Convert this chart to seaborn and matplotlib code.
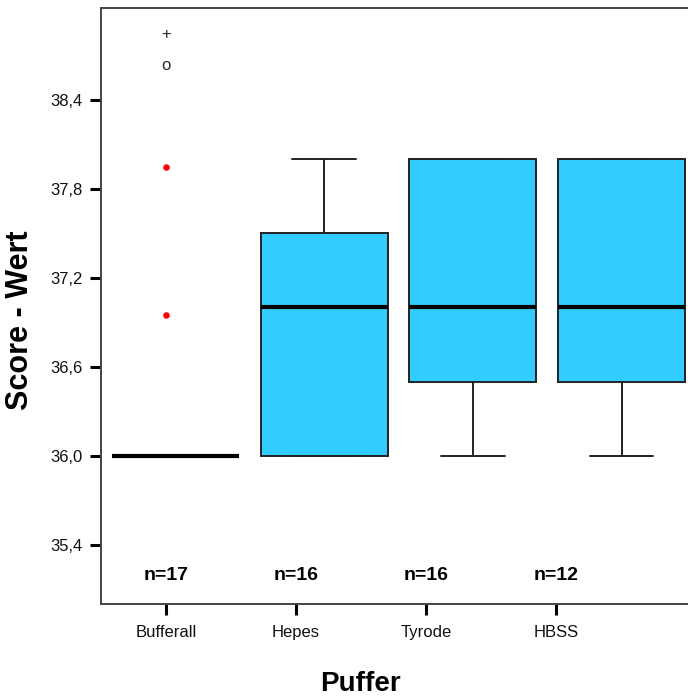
import numpy as np
import pandas as pd
import matplotlib.pyplot as plt
from matplotlib.ticker import FuncFormatter
import seaborn as sns

groups = ['Bufferall', 'Hepes', 'Tyrode', 'HBSS']
counts = ['n=17', 'n=16', 'n=16', 'n=12']

# raw scores per group (chosen so the quartiles match the picture)
bufferall = [36.0] * 15 + [36.95, 37.95]
hepes = [36.0] * 5 + [36.5] + [37.0] * 5 + [37.5] * 2 + [38.0] * 3
tyrode = [36.0] * 2 + [36.5] * 4 + [37.0] * 4 + [37.5] + [38.0] * 5
hbss = [36.0] * 2 + [36.5] * 2 + [37.0] * 3 + [37.5] + [38.0] * 4

red_outliers = [36.95, 37.95]
circle_mark = 38.63
plus_mark = 38.84

y_ticks = [35.4, 36.0, 36.6, 37.2, 37.8, 38.4]

df = pd.DataFrame({
    'Puffer': (['Bufferall'] * len(bufferall) + ['Hepes'] * len(hepes)
               + ['Tyrode'] * len(tyrode) + ['HBSS'] * len(hbss)),
    'Score': bufferall + hepes + tyrode + hbss,
})

sns.set_style('ticks')
plt.rcParams['font.family'] = ['Liberation Sans', 'DejaVu Sans']

fig = plt.figure(figsize=(6.88, 7.0), dpi=100)
ax = fig.add_axes([101 / 688, 96 / 700, 589 / 688, 596 / 700])

sns.boxplot(data=df, x='Puffer', y='Score', order=groups, ax=ax,
            color='#33CCFF', saturation=1, width=0.854, whis=1.5,
            showfliers=False,
            boxprops=dict(edgecolor='#222222', linewidth=1.4),
            whiskerprops=dict(color='#222222', linewidth=1.4),
            capprops=dict(color='#222222', linewidth=1.4),
            medianprops=dict(color='black', linewidth=3))

# tick / label positions sit a bit left of the box centres, like the original
tick_pos = [-0.063 + 0.874 * i for i in range(len(groups))]

ax.scatter([tick_pos[0]] * len(red_outliers), red_outliers, s=22,
           color='red', zorder=5, linewidths=0)
ax.text(tick_pos[0], circle_mark, 'o', ha='center', va='center', fontsize=12)
ax.text(tick_pos[0], plus_mark, '+', ha='center', va='center', fontsize=12)

for x, lab in zip(tick_pos, counts):
    ax.text(x, 35.19, lab, ha='center', va='center', fontsize=14,
            fontweight='bold', color='black')

ax.set_xlim(-0.5, 3.46)
ax.set_ylim(35.0, 39.02)
ax.set_xticks(tick_pos)
ax.set_xticklabels(groups)
ax.set_yticks(y_ticks)
ax.yaxis.set_major_formatter(FuncFormatter(lambda v, p: f'{v:.1f}'.replace('.', ',')))

ax.tick_params(axis='both', direction='out', length=8, width=2.2,
               color='black', labelsize=12, labelcolor='#111111')
ax.tick_params(axis='x', pad=7)
ax.tick_params(axis='y', pad=5)

for s in ['left', 'bottom', 'top', 'right']:
    ax.spines[s].set_color('#444444')
    ax.spines[s].set_linewidth(1.4)

ax.set_ylabel('Score - Wert', fontsize=22, fontweight='bold', color='black')
ax.set_xlabel('Puffer', fontsize=20, fontweight='bold', color='black')
ax.yaxis.set_label_coords(-0.112, 0.476)
ax.xaxis.set_label_coords(0.44, -0.112)

fig.savefig('out.png', dpi=100)
